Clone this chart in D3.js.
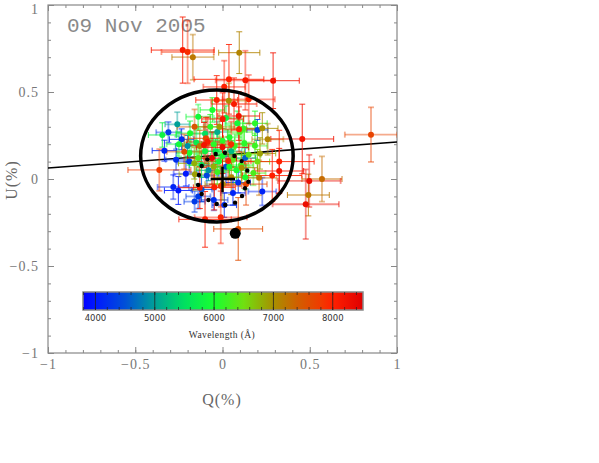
<!DOCTYPE html>
<html>
<head>
<meta charset="utf-8">
<title>09 Nov 2005 - QU plane</title>
<script src="https://d3js.org/d3.v7.min.js"></script>
<style>
  body { margin: 0; background: #fff; }
  .tick text { font-family: "Liberation Serif", serif; font-size: 14px; fill: #777; letter-spacing: 1px; }
  .domain { display: none; }
  .tick line { stroke: #888; }
</style>
</head>
<body>
<div id="chart"></div>
<script>
// measured points: wavelength (A), Q and U (%) with errors
var wavelengths = [4300,4100,4200,4200,4100,4000,4300,4200,4100,4400,4300,4500,4200,4100,4400,4600,4300,4500,4000,4200,
  5000,4900,5100,4900,5200,
  5800,5900,6000,6000,6100,6200,6100,5900,6000,6200,6000,6300,5800,5700,6100,6000,5900,6200,5600,6400,6100,5800,6300,6000,6200,5500,6400,6000,6500,5900,6100,6300,6000,6200,5700,
  7000,7000,7100,6900,6900,6800,6900,7000,6800,7100,7200,7100,7300,7200,7000,7200,7300,
  8100,7900,8000,8100,8200,8000,8200,7700,8000,8300,8000,8300,7600,8000,8100,7800,8000,8100,8200,8000,7700,8100,8200,7600,8000,7800,8100,8000,8300,8000,8200,7700,8400,7900,8100,7500];
var qVals = [-0.31,-0.333,-0.266,-0.234,-0.282,-0.253,-0.139,0.01,0.228,0.2,-0.19,-0.12,-0.05,0.06,-0.09,0.13,-0.16,0.02,-0.21,0.09,
  -0.259,-0.2,-0.03,-0.08,0.05,
  -0.345,-0.139,-0.058,-0.186,0.186,0.186,0.125,0.085,0.039,0.106,0.0,0.177,-0.1,-0.15,-0.05,0.04,-0.02,0.07,-0.12,0.15,-0.07,0.02,0.10,-0.19,-0.03,-0.10,0.06,0.13,0.20,-0.25,0.0,-0.14,0.08,0.12,-0.04,
  0.036,0.228,0.259,0.215,-0.018,-0.162,-0.158,0.11,-0.05,0.05,-0.17,0.096,0.57,0.492,0.0,-0.13,0.21,
  -0.228,-0.20,0.037,0.131,0.29,0.01,0.457,0.851,0.325,0.497,0.285,0.477,0.09,-0.01,-0.10,-0.362,-0.033,0.066,0.093,0.15,-0.095,-0.085,-0.106,-0.219,-0.047,-0.009,0.001,0.095,0.0,0.033,0.325,0.135,-0.06,0.05,-0.13,-0.16];
var uVals = [0.268,0.163,0.111,0.228,-0.046,-0.066,-0.10,-0.15,-0.072,0.282,0.10,-0.06,-0.12,-0.08,0.02,0.12,-0.13,0.07,0.03,-0.02,
  0.314,0.19,0.27,0.05,0.16,
  0.253,0.358,0.397,0.263,0.32,0.191,0.205,0.32,0.071,0.08,0.132,0.034,0.16,0.21,0.20,0.24,0.10,0.19,0.08,0.14,0.30,0.35,0.27,0.15,0.04,0.26,0.11,0.01,0.10,0.20,0.22,0.12,0.05,0.29,0.16,
  0.45,0.291,0.228,0.147,0.30,0.09,0.027,0.065,0.07,0.01,0.70,0.726,0.0,-0.092,-0.03,0.19,0.007,
  0.741,0.73,0.573,0.567,0.565,0.53,0.23,0.255,0.10,-0.011,0.02,-0.145,-0.287,-0.22,-0.232,0.052,0.454,0.431,0.362,0.458,0.234,0.214,0.195,0.157,-0.048,-0.04,0.345,0.286,0.182,0.103,0.046,-0.03,0.12,0.20,-0.05,0.30];
var qErr = [0.07,0.07,0.06,0.07,0.09,0.08,0.07,0.07,0.08,0.06,0.07,0.06,0.08,0.07,0.07,0.06,0.06,0.06,0.07,0.07,
  0.07,0.07,0.06,0.07,0.06,
  0.08,0.07,0.07,0.08,0.07,0.07,0.07,0.07,0.07,0.07,0.07,0.07,0.08,0.07,0.07,0.07,0.07,0.07,0.07,0.07,0.07,0.07,0.07,0.07,0.07,0.07,0.07,0.07,0.07,0.07,0.07,0.07,0.07,0.07,0.07,
  0.10,0.09,0.09,0.09,0.09,0.09,0.09,0.09,0.10,0.10,0.12,0.118,0.115,0.12,0.10,0.10,0.10,
  0.18,0.15,0.20,0.17,0.15,0.12,0.18,0.15,0.20,0.18,0.17,0.19,0.14,0.15,0.15,0.18,0.12,0.13,0.12,0.15,0.10,0.12,0.10,0.10,0.12,0.12,0.12,0.12,0.15,0.13,0.14,0.12,0.14,0.13,0.12,0.10];
var uErr = [0.06,0.06,0.06,0.06,0.07,0.08,0.07,0.07,0.08,0.06,0.06,0.07,0.06,0.07,0.06,0.06,0.06,0.06,0.07,0.06,
  0.07,0.06,0.06,0.06,0.06,
  0.07,0.07,0.07,0.07,0.07,0.07,0.07,0.07,0.07,0.06,0.07,0.07,0.07,0.07,0.07,0.07,0.07,0.07,0.07,0.07,0.07,0.07,0.07,0.07,0.07,0.07,0.06,0.07,0.07,0.07,0.07,0.07,0.07,0.07,0.07,
  0.10,0.09,0.09,0.09,0.09,0.09,0.09,0.09,0.10,0.10,0.13,0.12,0.13,0.12,0.09,0.09,0.10,
  0.19,0.18,0.20,0.17,0.16,0.15,0.20,0.157,0.18,0.15,0.15,0.20,0.18,0.15,0.16,0.12,0.14,0.15,0.14,0.14,0.12,0.14,0.13,0.10,0.13,0.12,0.15,0.13,0.15,0.14,0.13,0.12,0.15,0.13,0.12,0.10];

// small black dots (dotted loop) and the big black point
var loopQ = [-0.087,-0.039,0.014,0.068,0.110,0.142,0.148,0.129,0.112,0.072,0.016,-0.033,-0.081,-0.119,-0.140,-0.135,-0.119];
var loopU = [0.113,0.144,0.151,0.132,0.103,0.048,-0.016,-0.053,-0.098,-0.136,-0.149,-0.144,-0.121,-0.086,-0.034,0.023,0.075];
var bigDot = {q: 0.073, u: -0.312};
// big ellipse (centre, semi axes) and fitted line
var ellipse = {q: -0.032, u: 0.132, rq: 0.437, ru: 0.379};
var lineEnds = {q: [-1, 1], u: [0.063, 0.213]};

var majorTicks = [-1, -0.5, 0, 0.5, 1];
var minorTicks = d3.range(-10, 11).map(function(i) { return i / 10; });
var barTicks = [4000, 5000, 6000, 7000, 8000];
var barMinor = d3.range(3800, 8501, 200);
var barStops = [3790, 4000, 4500, 5000, 5500, 6000, 6500, 7000, 7400, 7800, 8000, 8500];
var barColors = ["#0000ff", "#0018ff", "#0050d8", "#00a098", "#00e060", "#18ff30", "#70e010", "#a89000", "#d06000", "#f03a00", "#ff2000", "#e00000"];

var W = 599, H = 463;
var svg = d3.select("#chart").append("svg").attr("width", W).attr("height", H);

var x = d3.scaleLinear().domain([-1, 1]).range([48, 397]);
var y = d3.scaleLinear().domain([-1, 1]).range([353, 5]);
var color = d3.scaleLinear().domain(barStops).range(barColors).clamp(true);

svg.append("clipPath").attr("id", "plotclip").append("rect")
  .attr("x", 48).attr("y", 5).attr("width", 349).attr("height", 348);

var fmt = d3.format("~g");
// axes, ticks inward on all four sides
var sides = [
  {fn: d3.axisBottom, sc: x, t: "translate(0,353)", lab: true},
  {fn: d3.axisTop, sc: x, t: "translate(0,5)", lab: false},
  {fn: d3.axisLeft, sc: y, t: "translate(48,0)", lab: true},
  {fn: d3.axisRight, sc: y, t: "translate(397,0)", lab: false}
];
sides.forEach(function(s) {
  svg.append("g").attr("transform", s.t)
    .call(s.fn(s.sc).tickValues(minorTicks).tickSize(-3).tickFormat(""));
  svg.append("g").attr("transform", s.t)
    .call(s.fn(s.sc).tickValues(majorTicks).tickSize(-6).tickPadding(s.fn === d3.axisLeft ? 9 : 6)
      .tickFormat(s.lab ? fmt : ""));
});
// keep the top "1" label inside the page
svg.selectAll(".tick text").filter(function(d) { return d === 1 && this.getAttribute("x") < 0; })
  .attr("dy", "0.6em");
svg.append("rect").attr("x", 48).attr("y", 5).attr("width", 349).attr("height", 348)
  .attr("fill", "none").attr("stroke", "#888").attr("stroke-width", 1.2);

// axis titles and date
svg.append("text").attr("x", 222).attr("y", 405).attr("text-anchor", "middle")
  .attr("font-family", "Liberation Serif, serif").attr("font-size", 16).attr("fill", "#666")
  .attr("letter-spacing", 1).text("Q(%)");
svg.append("text").attr("transform", "translate(17,180) rotate(-90)").attr("text-anchor", "middle")
  .attr("font-family", "Liberation Serif, serif").attr("font-size", 16).attr("fill", "#666")
  .attr("letter-spacing", 1).text("U(%)");
svg.append("text").attr("x", 67).attr("y", 32)
  .attr("font-family", "Liberation Mono, monospace").attr("font-size", 21).attr("fill", "#8a8a8a")
  .text("09 Nov 2005");

var plot = svg.append("g").attr("clip-path", "url(#plotclip)");

// fitted line
plot.append("line")
  .attr("x1", x(lineEnds.q[0])).attr("y1", y(lineEnds.u[0]))
  .attr("x2", x(lineEnds.q[1])).attr("y2", y(lineEnds.u[1]))
  .attr("stroke", "#000").attr("stroke-width", 1.6);

// data with error bars
var data = wavelengths.map(function(w, i) {
  return {w: w, q: qVals[i], u: uVals[i], eq: qErr[i], eu: uErr[i], i: i};
});
var cap = 3;
var pts = plot.selectAll("g.pt").data(data).enter().append("g").attr("class", "pt")
  .attr("stroke", function(d) { return color(d.w); })
  .attr("stroke-opacity", function(d) { return d.i % 2 ? 0.85 : 0.45; })
  .attr("stroke-width", function(d) { return d.i % 2 ? 1 : 1.8; });
pts.append("line")
  .attr("x1", function(d) { return x(d.q - d.eq); }).attr("x2", function(d) { return x(d.q + d.eq); })
  .attr("y1", function(d) { return y(d.u); }).attr("y2", function(d) { return y(d.u); });
pts.append("line")
  .attr("x1", function(d) { return x(d.q); }).attr("x2", function(d) { return x(d.q); })
  .attr("y1", function(d) { return y(d.u - d.eu); }).attr("y2", function(d) { return y(d.u + d.eu); });
[-1, 1].forEach(function(s) {
  pts.append("line")
    .attr("x1", function(d) { return x(d.q + s * d.eq); }).attr("x2", function(d) { return x(d.q + s * d.eq); })
    .attr("y1", function(d) { return y(d.u) - cap; }).attr("y2", function(d) { return y(d.u) + cap; });
  pts.append("line")
    .attr("y1", function(d) { return y(d.u + s * d.eu); }).attr("y2", function(d) { return y(d.u + s * d.eu); })
    .attr("x1", function(d) { return x(d.q) - cap; }).attr("x2", function(d) { return x(d.q) + cap; });
});
plot.selectAll("circle.pt").data(data).enter().append("circle").attr("class", "pt")
  .attr("cx", function(d) { return x(d.q); }).attr("cy", function(d) { return y(d.u); })
  .attr("r", 3).attr("fill", function(d) { return color(d.w); });

// big ellipse
plot.append("ellipse")
  .attr("cx", x(ellipse.q)).attr("cy", y(ellipse.u))
  .attr("rx", x(ellipse.rq) - x(0)).attr("ry", y(0) - y(ellipse.ru))
  .attr("fill", "none").attr("stroke", "#000").attr("stroke-width", 3.5);

// origin cross
plot.append("line").attr("x1", x(-0.068)).attr("x2", x(0.072)).attr("y1", y(0)).attr("y2", y(0))
  .attr("stroke", "#000").attr("stroke-width", 2.5);
plot.append("line").attr("x1", x(0)).attr("x2", x(0)).attr("y1", y(0.07)).attr("y2", y(-0.075))
  .attr("stroke", "#000").attr("stroke-width", 2.5);

// dotted loop
plot.selectAll("circle.loop").data(loopQ).enter().append("circle").attr("class", "loop")
  .attr("cx", function(d) { return x(d); }).attr("cy", function(d, i) { return y(loopU[i]); })
  .attr("r", 2.2).attr("fill", "#000");
plot.append("circle").attr("cx", x(bigDot.q)).attr("cy", y(bigDot.u)).attr("r", 5.5).attr("fill", "#000");

// colour bar
var wl = d3.scaleLinear().domain([3790, 8510]).range([83, 363]);
var grad = svg.append("defs").append("linearGradient").attr("id", "wlgrad")
  .attr("x1", "0%").attr("x2", "100%").attr("y1", "0%").attr("y2", "0%");
barStops.forEach(function(s, i) {
  grad.append("stop").attr("offset", ((wl(s) - 83) / 280 * 100) + "%").attr("stop-color", barColors[i]);
});
var bar = svg.append("g");
bar.append("rect").attr("x", 83).attr("y", 292).attr("width", 280).attr("height", 18)
  .attr("fill", "url(#wlgrad)").attr("stroke", "#888").attr("stroke-width", 1.5);
bar.selectAll("line.maj").data(barTicks).enter().append("line")
  .attr("x1", function(d) { return wl(d); }).attr("x2", function(d) { return wl(d); })
  .attr("y1", 292).attr("y2", 310).attr("stroke", "#222").attr("stroke-width", 0.8);
bar.selectAll("line.mint").data(barMinor).enter().append("line")
  .attr("x1", function(d) { return wl(d); }).attr("x2", function(d) { return wl(d); })
  .attr("y1", 292).attr("y2", 295).attr("stroke", "#222").attr("stroke-width", 0.7);
bar.selectAll("line.minb").data(barMinor).enter().append("line")
  .attr("x1", function(d) { return wl(d); }).attr("x2", function(d) { return wl(d); })
  .attr("y1", 307).attr("y2", 310).attr("stroke", "#222").attr("stroke-width", 0.7);
bar.selectAll("text.lab").data(barTicks).enter().append("text")
  .attr("x", function(d) { return wl(d); }).attr("y", 321).attr("text-anchor", "middle")
  .attr("font-family", "DejaVu Sans, sans-serif").attr("font-size", 8.5).attr("fill", "#333")
  .text(function(d) { return d; });
bar.append("text").attr("x", 222).attr("y", 338).attr("text-anchor", "middle")
  .attr("font-family", "Liberation Serif, serif").attr("font-size", 9.5).attr("fill", "#333")
  .attr("letter-spacing", 0.4).text("Wavelength (Å)");
</script>
</body>
</html>
